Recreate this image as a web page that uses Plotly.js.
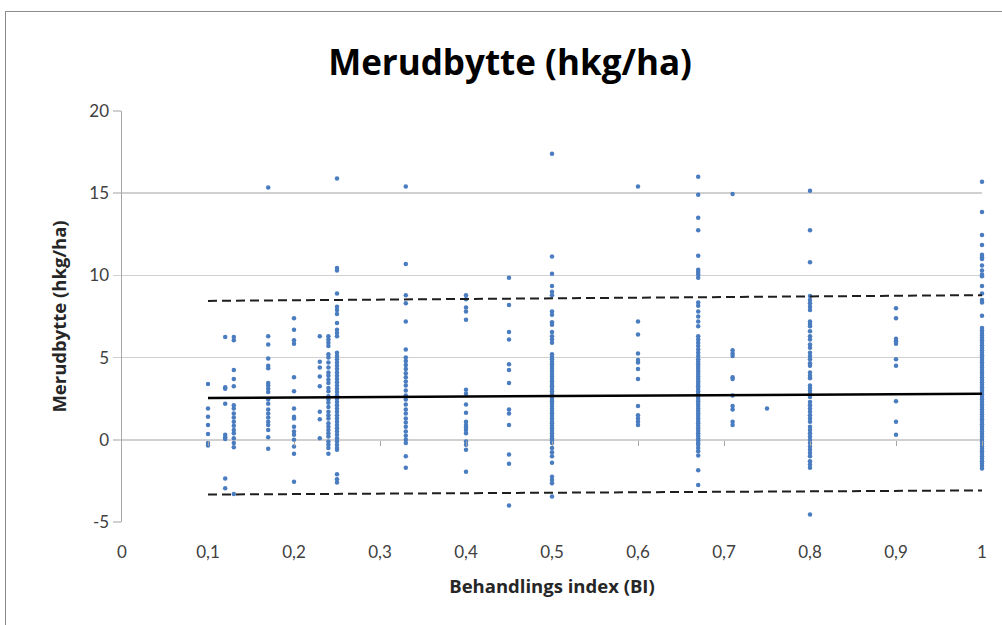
<!DOCTYPE html>
<html>
<head>
<meta charset="utf-8">
<script src="https://cdn.plot.ly/plotly-3.0.1.min.js"></script>
<style>
  html, body { margin:0; padding:0; background:#fff; overflow:hidden; }
  #wrap { position:relative; width:1002px; height:625px; }
  #chart { position:absolute; left:0; top:0; width:1002px; height:625px; }
  #frame { position:absolute; left:5px; top:11px; width:1100px; height:700px;
           border-left:1.5px solid #8c8c8c; border-top:1.5px solid #8c8c8c; pointer-events:none; }
</style>
</head>
<body>
<div id="wrap"><div id="chart"></div><div id="frame"></div></div>
<script>
// Behandlings index columns (BI) and Merudbytte (hkg/ha) readings
const bi = [0.1, 0.12, 0.13, 0.17, 0.2, 0.23, 0.24, 0.25, 0.33, 0.4, 0.45, 0.5, 0.6, 0.67, 0.71, 0.75, 0.8, 0.9, 1.0];

const y010 = [3.4, 1.9, 1.4, 0.9, 0.35, -0.2, -0.35];
const y012 = [6.25, 3.2, 3.1, 2.2, 0.3, 0.15, 0.05, -2.35, -2.95];
const y013 = [6.25, 6.05, 4.25, 3.7, 3.25, 2.1, 1.9, 1.6, 1.35, 1.1, 0.85, 0.6, 0.4, 0.1, -0.2, -0.45, -3.3];
const y017 = [15.35, 6.3, 5.8, 4.95, 4.5, 4.35, 3.45, 3.3, 3.1, 2.9, 2.45, 2.2, 1.85, 1.6, 1.35, 1.1, 0.9, 0.6, 0.15, -0.55];
const y020 = [7.4, 6.7, 6.05, 5.85, 3.8, 2.95, 1.9, 1.4, 1.3, 0.8, 0.5, 0.3, 0.0, -0.4, -0.85, -2.55];
const y023 = [6.3, 4.75, 4.4, 3.85, 3.25, 1.7, 1.25, 0.1];
const y024 = [6.3, 6.1, 5.9, 5.7, 5.2, 5.0, 4.7, 4.4, 4.1, 3.9, 3.65, 3.45, 3.15, 2.95, 2.65, 2.45, 2.25, 2.0, 1.7, 1.5, 1.3, 1.0, 0.8, 0.6, 0.4, 0.2, -0.1, -0.3, -0.5, -0.85];
const y025 = [15.9, 10.45, 10.3, 8.9, 8.1, 7.9, 7.65, 7.1, 6.7, 6.5, 6.3, 5.3, 5.1, 4.9, 4.7, 4.5, 4.3, 4.1, 3.9, 3.7, 3.5, 3.3, 3.1, 2.9, 2.7, 2.5, 2.3, 2.1, 1.9, 1.7, 1.5, 1.3, 1.1, 0.9, 0.7, 0.5, 0.3, 0.1, -0.1, -0.3, -0.5, -0.6, -2.1, -2.4, -2.6];
const y033 = [15.4, 10.7, 8.8, 8.3, 7.2, 5.5, 5.0, 4.8, 4.55, 4.3, 4.05, 3.8, 3.55, 3.3, 3.0, 2.7, 2.45, 2.15, 1.85, 1.6, 1.3, 1.05, 0.8, 0.5, 0.25, 0.0, -0.2, -1.0, -1.7];
const y040 = [8.8, 8.55, 8.05, 7.8, 7.3, 3.05, 2.8, 2.15, 1.65, 1.1, 0.9, 0.75, 0.6, 0.4, -0.1, -0.3, -0.6, -1.95];
const y045 = [9.85, 8.2, 6.55, 6.1, 4.6, 4.25, 3.45, 1.85, 1.6, 0.9, -0.9, -1.45, -4.0];
const y050 = [17.4, 11.15, 10.1, 9.35, 9.0, 8.8, 7.8, 7.6, 7.15, 7.0, 6.55, 6.3, 6.1, 5.9, 5.2, 5.05, 4.9, 4.75, 4.6, 4.45, 4.3, 4.15, 4.0, 3.85, 3.7, 3.55, 3.4, 3.25, 3.1, 2.95, 2.8, 2.65, 2.5, 2.35, 2.2, 2.05, 1.9, 1.75, 1.6, 1.45, 1.3, 1.15, 1.0, 0.85, 0.7, 0.55, 0.4, 0.25, 0.1, -0.05, -0.2, -0.5, -0.75, -1.0, -1.4, -2.25, -2.45, -2.65, -3.45];
const y060 = [15.4, 7.2, 6.4, 5.25, 4.85, 4.7, 4.3, 3.7, 2.05, 1.5, 1.3, 1.1, 0.9];
const y067 = [16.0, 14.9, 13.5, 12.75, 11.2, 10.35, 10.2, 10.05, 9.85, 8.35, 8.15, 7.8, 7.5, 7.2, 6.9, 6.3, 6.1, 5.9, 5.7, 5.5, 5.3, 5.1, 4.9, 4.75, 4.6, 4.45, 4.3, 4.15, 4.0, 3.85, 3.7, 3.55, 3.4, 3.25, 3.1, 2.95, 2.8, 2.65, 2.5, 2.35, 2.2, 2.05, 1.9, 1.75, 1.6, 1.45, 1.3, 1.15, 1.0, 0.85, 0.7, 0.55, 0.4, 0.25, 0.1, -0.05, -0.2, -0.3, -0.5, -0.7, -0.95, -1.85, -2.75];
const y071 = [14.95, 5.45, 5.25, 5.1, 3.8, 3.7, 2.7, 2.05, 1.85, 1.1, 0.9];
const y075 = [1.9];
const y080 = [15.15, 12.75, 10.8, 8.75, 8.5, 8.3, 8.1, 7.9, 7.2, 7.05, 6.9, 6.6, 6.3, 6.1, 5.8, 5.6, 5.3, 5.1, 4.9, 4.65, 4.5, 4.1, 3.9, 3.75, 3.3, 3.15, 3.0, 2.8, 2.6, 2.3, 2.1, 1.9, 1.7, 1.5, 1.3, 1.1, 0.8, 0.6, 0.4, 0.2, 0.0, -0.2, -0.4, -0.6, -0.8, -1.0, -1.3, -1.5, -1.7, -4.55];
const y090 = [8.0, 7.4, 6.15, 6.0, 5.85, 4.9, 4.5, 2.35, 1.1, 0.3];
const y100 = [15.7, 13.85, 12.45, 11.85, 11.25, 11.1, 11.0, 10.6, 10.3, 10.05, 9.95, 9.35, 8.9, 8.5, 8.35, 7.55, 6.8, 6.65, 6.5, 6.35, 6.2, 6.05, 5.9, 5.75, 5.6, 5.45, 5.3, 5.15, 5.0, 4.85, 4.7, 4.55, 4.4, 4.25, 4.1, 3.95, 3.8, 3.65, 3.5, 3.35, 3.2, 3.05, 2.9, 2.75, 2.6, 2.45, 2.3, 2.15, 2.0, 1.85, 1.7, 1.55, 1.4, 1.25, 1.1, 0.95, 0.8, 0.65, 0.5, 0.35, 0.2, 0.05, -0.1, -0.25, -0.4, -0.55, -0.7, -0.85, -1.0, -1.15, -1.3, -1.45, -1.6, -1.75];

const columns = [y010, y012, y013, y017, y020, y023, y024, y025, y033, y040, y045, y050, y060, y067, y071, y075, y080, y090, y100];

// Trend line and limit lines (start/end at BI 0.1 and 1)
const lineX = [0.1, 1.0];
const meanY = [2.55, 2.8];
const upperY = [8.45, 8.8];
const lowerY = [-3.33, -3.08];

const xTicks = [0, 0.1, 0.2, 0.3, 0.4, 0.5, 0.6, 0.7, 0.8, 0.9, 1];
const xTickText = ['0', '0,1', '0,2', '0,3', '0,4', '0,5', '0,6', '0,7', '0,8', '0,9', '1'];
const yTicks = [-5, 0, 5, 10, 15, 20];
const yTickText = ['-5', '0', '5', '10', '15', '20'];

const px = [], py = [];
columns.forEach((col, i) => col.forEach(v => { px.push(bi[i]); py.push(v); }));

const FONT = 'Lato, "Open Sans", sans-serif';
const TFONT = '"Open Sans", Lato, sans-serif';

const traces = [
  { x: px, y: py, type: 'scatter', mode: 'markers', cliponaxis: false,
    marker: { color: '#4a7cc0', size: 4.5 }, hoverinfo: 'skip' },
  { x: lineX, y: upperY, type: 'scatter', mode: 'lines',
    line: { color: '#1e1e1e', width: 2, dash: '9px,5px' } },
  { x: lineX, y: lowerY, type: 'scatter', mode: 'lines',
    line: { color: '#1e1e1e', width: 2, dash: '9px,5px' } },
  { x: lineX, y: meanY, type: 'scatter', mode: 'lines',
    line: { color: '#000000', width: 2.5 } },
  // invisible trace to activate the tick-mark axis at y = 0
  { x: lineX, y: meanY, xaxis: 'x2', type: 'scatter', mode: 'lines',
    line: { color: 'rgba(0,0,0,0)', width: 0 }, hoverinfo: 'skip' }
];

const layout = {
  width: 1002, height: 625,
  margin: { l: 122, r: 20, t: 111, b: 103 },
  paper_bgcolor: '#ffffff', plot_bgcolor: '#ffffff',
  showlegend: false,
  font: { family: FONT, color: '#404040' },
  title: { text: 'Merudbytte (hkg/ha)', x: 0.509, xanchor: 'center', y: 0.9, yanchor: 'middle',
           font: { family: TFONT, size: 35, color: '#000', weight: 'bold' } },
  xaxis: {
    range: [0, 1], tickvals: xTicks, ticktext: xTickText,
    showgrid: false, zeroline: false, showline: false,
    ticks: 'outside', ticklen: 15, tickcolor: 'rgba(0,0,0,0)',
    tickfont: { family: FONT, size: 17, color: '#404040' },
    title: { text: 'Behandlings index (BI)', standoff: 18,
             font: { family: TFONT, size: 18.5, color: '#262626', weight: 'bold' } }
  },
  xaxis2: {
    range: [0, 1], overlaying: 'x', anchor: 'free', position: 0.2, side: 'bottom',
    tickvals: xTicks.slice(1), ticks: 'outside', ticklen: 5, tickcolor: '#a6a6a6', tickwidth: 1,
    showticklabels: false, showgrid: false, zeroline: false, showline: false
  },
  yaxis: {
    range: [-5, 20], tickvals: yTicks, ticktext: yTickText,
    showgrid: true, gridcolor: '#d0d0d0', gridwidth: 1.5,
    zeroline: false, showline: true, linecolor: '#a6a6a6', linewidth: 1.5,
    ticks: 'outside', ticklen: 8, tickcolor: '#d0d0d0', tickwidth: 1.5,
    tickfont: { family: FONT, size: 17, color: '#404040' },
    title: { text: 'Merudbytte (hkg/ha)', standoff: 18,
             font: { family: TFONT, size: 18.5, color: '#262626', weight: 'bold' } }
  }
};

Plotly.newPlot('chart', traces, layout, { staticPlot: true, displayModeBar: false });
</script>
</body>
</html>
